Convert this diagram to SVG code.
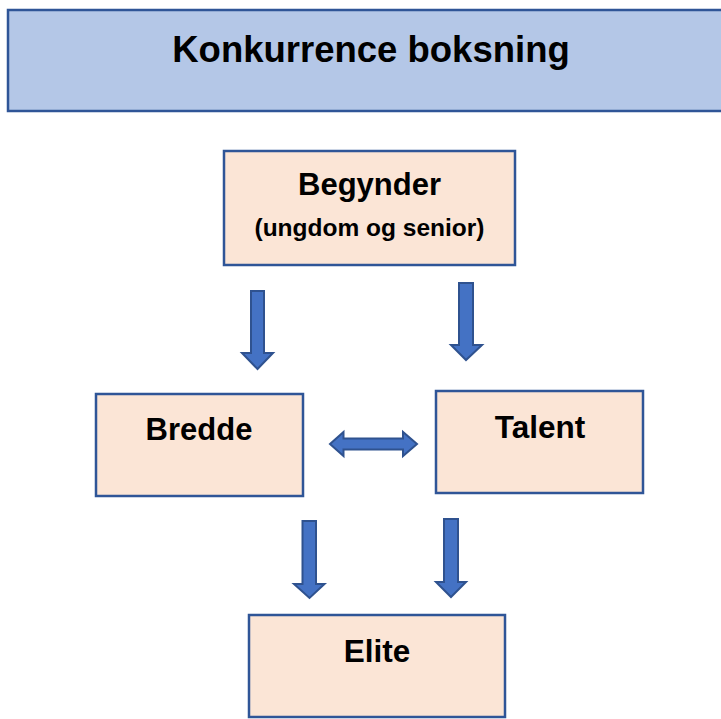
<svg xmlns="http://www.w3.org/2000/svg" width="721" height="719" viewBox="0 0 721 719">
<style>
.title{fill:#b4c7e7;stroke:#2f5597;stroke-width:2.5}
.box{fill:#fbe5d6;stroke:#2f5597;stroke-width:2.5}
.t{font-family:"Liberation Sans",Arial,sans-serif;font-weight:bold;fill:#000;text-anchor:middle}
.arrow{fill:#4472c4;stroke:#2f528f;stroke-width:2;stroke-linejoin:miter}
</style>
<rect x="0" y="0" width="721" height="719" fill="#fff"/>
<g id="title">
<rect class="title" x="8" y="10" width="720" height="101"/>
<text class="t" x="371" y="62" font-size="36.5">Konkurrence boksning</text>
</g>
<g id="begynder">
<rect class="box" x="224" y="151" width="291" height="114"/>
<text class="t" x="369.5" y="195" font-size="31">Begynder</text>
<text class="t" x="369.5" y="236" font-size="24.5">(ungdom og senior)</text>
</g>
<g id="bredde">
<rect class="box" x="96" y="394" width="207" height="102"/>
<text class="t" x="199" y="440" font-size="31">Bredde</text>
</g>
<g id="talent">
<rect class="box" x="436" y="391" width="207" height="102"/>
<text class="t" x="540" y="438" font-size="31.5">Talent</text>
</g>
<g id="elite">
<rect class="box" x="249" y="615" width="256" height="102"/>
<text class="t" x="377" y="662" font-size="31.5">Elite</text>
</g>
<g id="connectors">
<path class="arrow" d="M251,291 H264 V353 H273 L257.5,369 L242,353 H251 Z"/>
<path class="arrow" d="M459,283 H473 V345 H482 L466,360 L451,345 H459 Z"/>
<path class="arrow" d="M302.5,521 H316 V584 H324.5 L309.5,598 L294,584 H302.5 Z"/>
<path class="arrow" d="M444,519 H458 V582 H466 L451,597 L436,582 H444 Z"/>
<path class="arrow" d="M330,444 L343.5,432 V438.5 H403 V432 L417,444 L403,456 V449.5 H343.5 V456 Z"/>
</g>
</svg>
